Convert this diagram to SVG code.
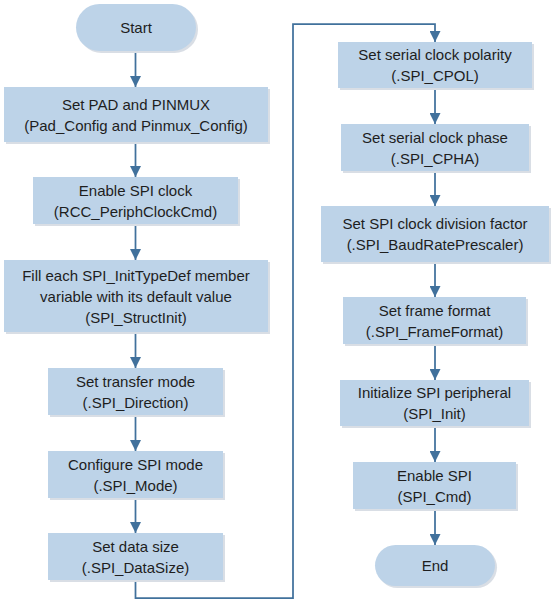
<svg xmlns="http://www.w3.org/2000/svg" width="560" height="610" viewBox="0 0 560 610">
<defs>
<style>
.n{fill:#BDD3E8;}
.sh{fill:#D9DEE5;}
.t{font-family:"Liberation Sans",Arial,sans-serif;font-size:15px;fill:#1E1E1E;text-anchor:middle;}
.c{fill:none;stroke:#41719C;stroke-width:1.75;}
</style>
<marker id="ah" markerUnits="userSpaceOnUse" markerWidth="11" markerHeight="11" refX="11" refY="5.5" orient="auto">
<path d="M0,0 L11,5.5 L0,11 z" fill="#41719C"/>
</marker>
</defs>
<rect width="560" height="610" fill="#FFFFFF"/>
<g id="connectors">
<path class="c" d="M135.5,51 V87" marker-end="url(#ah)"/>
<path class="c" d="M135.5,142 V177" marker-end="url(#ah)"/>
<path class="c" d="M135.5,224 V260" marker-end="url(#ah)"/>
<path class="c" d="M135.5,332 V368" marker-end="url(#ah)"/>
<path class="c" d="M135.5,415 V451" marker-end="url(#ah)"/>
<path class="c" d="M135.5,498 V533" marker-end="url(#ah)"/>
<path class="c" d="M135.5,580 V598 H293 V24 H435 V42" marker-end="url(#ah)"/>
<path class="c" d="M435,88 V124" marker-end="url(#ah)"/>
<path class="c" d="M435,171 V206" marker-end="url(#ah)"/>
<path class="c" d="M435,262 V297" marker-end="url(#ah)"/>
<path class="c" d="M435,344 V380" marker-end="url(#ah)"/>
<path class="c" d="M435,426 V462" marker-end="url(#ah)"/>
<path class="c" d="M435,509 V545" marker-end="url(#ah)"/>
</g>
<g id="start">
<rect class="sh" x="78" y="6" width="120" height="47" rx="23.5"/>
<rect class="n" x="76" y="4" width="120" height="47" rx="23.5"/>
<text class="t" x="136" y="33">Start</text>
</g>
<g id="pad">
<rect class="sh" x="6" y="89" width="264" height="55"/>
<rect class="n" x="4" y="87" width="264" height="55"/>
<text class="t" x="136" y="109.5">Set PAD and PINMUX</text>
<text class="t" x="136" y="130.5">(Pad_Config and Pinmux_Config)</text>
</g>
<g id="clock">
<rect class="sh" x="35" y="179" width="205" height="47"/>
<rect class="n" x="33" y="177" width="205" height="47"/>
<text class="t" x="135.5" y="195.5">Enable SPI clock</text>
<text class="t" x="135.5" y="216.5">(RCC_PeriphClockCmd)</text>
</g>
<g id="structinit">
<rect class="sh" x="6" y="262" width="264" height="72"/>
<rect class="n" x="4" y="260" width="264" height="72"/>
<text class="t" x="136" y="281">Fill each SPI_InitTypeDef member</text>
<text class="t" x="136" y="302">variable with its default value</text>
<text class="t" x="136" y="323">(SPI_StructInit)</text>
</g>
<g id="direction">
<rect class="sh" x="50" y="370" width="175" height="47"/>
<rect class="n" x="48" y="368" width="175" height="47"/>
<text class="t" x="135.5" y="386.5">Set transfer mode</text>
<text class="t" x="135.5" y="407.5">(.SPI_Direction)</text>
</g>
<g id="mode">
<rect class="sh" x="50" y="453" width="175" height="47"/>
<rect class="n" x="48" y="451" width="175" height="47"/>
<text class="t" x="135.5" y="469.5">Configure SPI mode</text>
<text class="t" x="135.5" y="490.5">(.SPI_Mode)</text>
</g>
<g id="datasize">
<rect class="sh" x="50" y="535" width="175" height="47"/>
<rect class="n" x="48" y="533" width="175" height="47"/>
<text class="t" x="135.5" y="551.5">Set data size</text>
<text class="t" x="135.5" y="572.5">(.SPI_DataSize)</text>
</g>
<g id="cpol">
<rect class="sh" x="340" y="44" width="194" height="46"/>
<rect class="n" x="338" y="42" width="194" height="46"/>
<text class="t" x="435" y="60">Set serial clock polarity</text>
<text class="t" x="435" y="81">(.SPI_CPOL)</text>
</g>
<g id="cpha">
<rect class="sh" x="343" y="126" width="188" height="47"/>
<rect class="n" x="341" y="124" width="188" height="47"/>
<text class="t" x="435" y="142.5">Set serial clock phase</text>
<text class="t" x="435" y="163.5">(.SPI_CPHA)</text>
</g>
<g id="baud">
<rect class="sh" x="323" y="208" width="228" height="56"/>
<rect class="n" x="321" y="206" width="228" height="56"/>
<text class="t" x="435" y="229">Set SPI clock division factor</text>
<text class="t" x="435" y="250">(.SPI_BaudRatePrescaler)</text>
</g>
<g id="frame">
<rect class="sh" x="345" y="299" width="183" height="47"/>
<rect class="n" x="343" y="297" width="183" height="47"/>
<text class="t" x="434.5" y="315.5">Set frame format</text>
<text class="t" x="434.5" y="336.5">(.SPI_FrameFormat)</text>
</g>
<g id="init">
<rect class="sh" x="342" y="382" width="189" height="46"/>
<rect class="n" x="340" y="380" width="189" height="46"/>
<text class="t" x="434.5" y="398">Initialize SPI peripheral</text>
<text class="t" x="434.5" y="419">(SPI_Init)</text>
</g>
<g id="cmd">
<rect class="sh" x="355" y="464" width="163" height="47"/>
<rect class="n" x="353" y="462" width="163" height="47"/>
<text class="t" x="434.5" y="480.5">Enable SPI</text>
<text class="t" x="434.5" y="501.5">(SPI_Cmd)</text>
</g>
<g id="end">
<rect class="sh" x="377" y="547" width="120" height="41" rx="20.5"/>
<rect class="n" x="375" y="545" width="120" height="41" rx="20.5"/>
<text class="t" x="435" y="571">End</text>
</g>
</svg>
